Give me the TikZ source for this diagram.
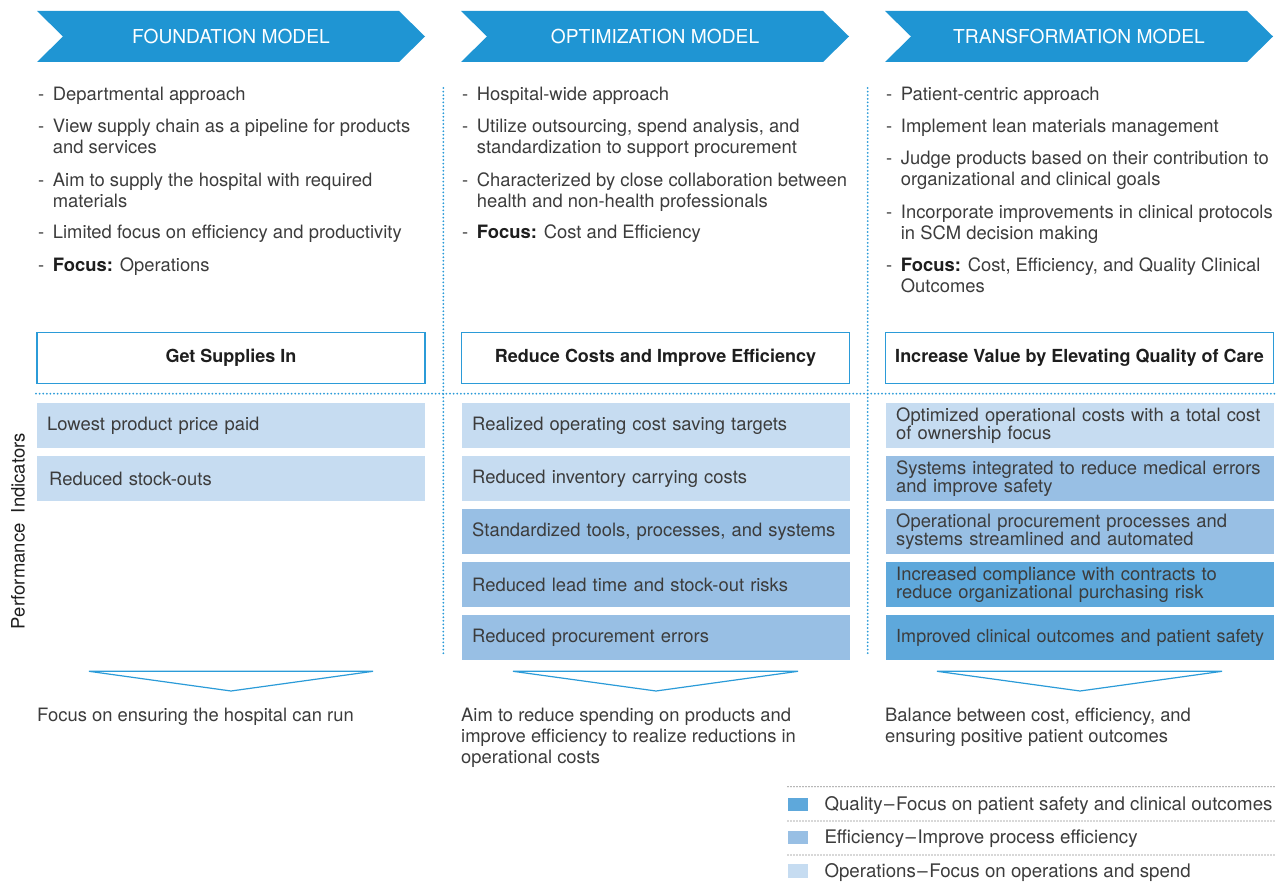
\documentclass[tikz,border=0pt]{standalone}
\usepackage{fontspec}
\setmainfont{TeX Gyre Heros}
\definecolor{chev}{HTML}{1F95D3}
\definecolor{lineblue}{HTML}{2B9BD8}
\definecolor{lightb}{HTML}{C6DCF1}
\definecolor{medb}{HTML}{98BFE4}
\definecolor{darkb}{HTML}{5EA8DB}
\definecolor{tgray}{HTML}{3C3C3C}
\definecolor{tdark}{HTML}{1E1E1E}
\definecolor{lgray}{HTML}{555555}
% #1 name, #2 x of dash, #3 first baseline, #4 number of extra lines, #5 text
\newcommand\bul[5]{\node[txt,anchor=base west] (#1d) at (#2,#3) {-};
  \node[txt,anchor=base west] (#1) at (#2+14.7,#3+21*#4) {#5};}
\begin{document}
\begin{tikzpicture}[x=1pt,y=-1pt,
  txt/.style={text=tgray,inner sep=0pt,font=\fontsize{18.4}{21}\selectfont,align=left},
  chevtxt/.style={text=white,inner sep=0pt,font=\fontsize{19.2}{21}\selectfont},
  goal/.style={draw=lineblue,line width=1.3pt,minimum width=388pt,minimum height=50.5pt,inner sep=0pt,
    text=tdark,font=\fontsize{18}{21}\selectfont\bfseries},
  ind/.style={anchor=north west,text width=368pt,inner xsep=10pt,inner ysep=0pt,minimum height=45pt,
    align=left,text=tgray,font=\fontsize{18.4}{18.5}\selectfont},
  bdots/.style={draw=lineblue,line width=2pt,line cap=round,dash pattern=on 0pt off 3.6pt},
  gdots/.style={draw=lgray,line width=1.2pt,line cap=round,dash pattern=on 0pt off 3pt},
  tri/.style={draw=lineblue,line width=1.2pt,line join=miter},
  legtxt/.style={text=tgray,inner sep=0pt,font=\fontsize{18.7}{21}\selectfont,anchor=base west}]
\useasboundingbox (0,0) rectangle (1287,882);

% chevrons
\foreach \i/\t in {0/FOUNDATION MODEL,1/OPTIMIZATION MODEL,2/TRANSFORMATION MODEL}{
  \pgfmathsetmacro\x{37+424*\i}
  \fill[chev] (\x,11) -- (\x+362,11) -- (\x+388,36.5) -- (\x+362,62) -- (\x,62) -- (\x+26,36.5) -- cycle;
  \node[chevtxt] (h\i) at (\x+194,37) {\t};
}

% dotted separators
\draw[bdots] (443.3,88) -- (443.3,655);
\draw[bdots] (867.7,88) -- (867.7,655);
\draw[bdots] (36,393.7) -- (1276,393.7);

% column 1 bullets
\bul{a1}{38}{101}{0}{Departmental approach}
\bul{a2}{38}{133}{1}{View supply chain as a pipeline for products\\and services}
\bul{a3}{38}{187}{1}{Aim to supply the hospital with required\\materials}
\bul{a4}{38}{239}{0}{Limited focus on efficiency and productivity}
\bul{a5}{38}{272}{0}{{\color{tdark}\bfseries Focus:} Operations}

% column 2 bullets
\bul{b1}{462}{101}{0}{Hospital-wide approach}
\bul{b2}{462}{133}{1}{Utilize outsourcing, spend analysis, and\\standardization to support procurement}
\bul{b3}{462}{187}{1}{Characterized by close collaboration between\\health and non-health professionals}
\bul{b4}{462}{239}{0}{{\color{tdark}\bfseries Focus:} Cost and Efficiency}

% column 3 bullets
\bul{c1}{886}{101}{0}{Patient-centric approach}
\bul{c2}{886}{133}{0}{Implement lean materials management}
\bul{c3}{886}{165}{1}{Judge products based on their contribution to\\organizational and clinical goals}
\bul{c4}{886}{219}{1}{Incorporate improvements in clinical protocols\\in SCM decision making}
\bul{c5}{886}{272}{1}{{\color{tdark}\bfseries Focus:} Cost, Efficiency, and Quality Clinical\\Outcomes}

% goal boxes
\node[goal] (g1) at (231,358) {Get Supplies In};
\node[goal] (g2) at (655.5,358) {Reduce Costs and Improve Efficiency};
\node[goal] (g3) at (1079.5,358) {Increase Value by Elevating Quality of Care};

% indicators column 1
\node[ind,fill=lightb] (p11) at (37,403) {Lowest product price paid};
\node[ind,fill=lightb] (p12) at (37,456) {\kern2pt Reduced stock-outs};
% column 2
\node[ind,fill=lightb] (p21) at (462,403) {Realized operating cost saving targets};
\node[ind,fill=lightb] (p22) at (462,456) {Reduced inventory carrying costs};
\node[ind,fill=medb] (p23) at (462,509) {Standardized tools, processes, and systems};
\node[ind,fill=medb] (p24) at (462,562) {Reduced lead time and stock-out risks};
\node[ind,fill=medb] (p25) at (462,615) {Reduced procurement errors};
% column 3
\node[ind,fill=lightb] (p31) at (886,403) {Optimized operational costs with a total cost\\of ownership focus};
\node[ind,fill=medb] (p32) at (886,456) {Systems integrated to reduce medical errors\\and improve safety};
\node[ind,fill=medb] (p33) at (886,509) {Operational procurement processes and\\systems streamlined and automated};
\node[ind,fill=darkb] (p34) at (886,562) {Increased compliance with contracts to\\reduce organizational purchasing risk};
\node[ind,fill=darkb,font=\fontsize{18}{18.5}\selectfont] (p35) at (886,615) {\mbox{Improved clinical outcomes and patient safety}};

% side label
\node[rotate=90,text=tdark,inner sep=0pt,font=\fontsize{18.5}{21}\selectfont] (pi) at (18,531) {Performance\ \ Indicators};

% down triangles
\draw[tri] (89,671.3) -- (373,671.3) -- (231,691) -- cycle;
\draw[tri] (513,671.3) -- (798,671.3) -- (656,691) -- cycle;
\draw[tri] (937,671.3) -- (1222,671.3) -- (1080,691) -- cycle;

% bottom texts (anchored at last baseline)
\node[txt,anchor=base west] (r1) at (37,721) {Focus on ensuring the hospital can run};
\node[txt,anchor=base west] (r2) at (461,763) {Aim to reduce spending on products and\\improve efficiency to realize reductions in\\operational costs};
\node[txt,anchor=base west] (r3) at (885,742) {Balance between cost, efficiency, and\\ensuring positive patient outcomes};

% legend
\draw[gdots] (788,786.7) -- (1274,786.7);
\draw[gdots] (788,821) -- (1274,821);
\draw[gdots] (788,855) -- (1274,855);
\fill[darkb] (788,797.7) rectangle (807.7,811);
\fill[medb] (788,831) rectangle (807.7,844.3);
\fill[lightb] (788,864.3) rectangle (807.7,878);
\node[legtxt] (l1) at (824.3,810) {Quality\kern1.5pt--\kern1.5pt Focus on patient safety and clinical outcomes};
\node[legtxt] (l2) at (824.3,843.5) {Efficiency\kern1.5pt--\kern1.5pt Improve process efficiency};
\node[legtxt] (l3) at (824.3,877) {Operations\kern1.5pt--\kern1.5pt Focus on operations and spend};
\end{tikzpicture}
\end{document}
